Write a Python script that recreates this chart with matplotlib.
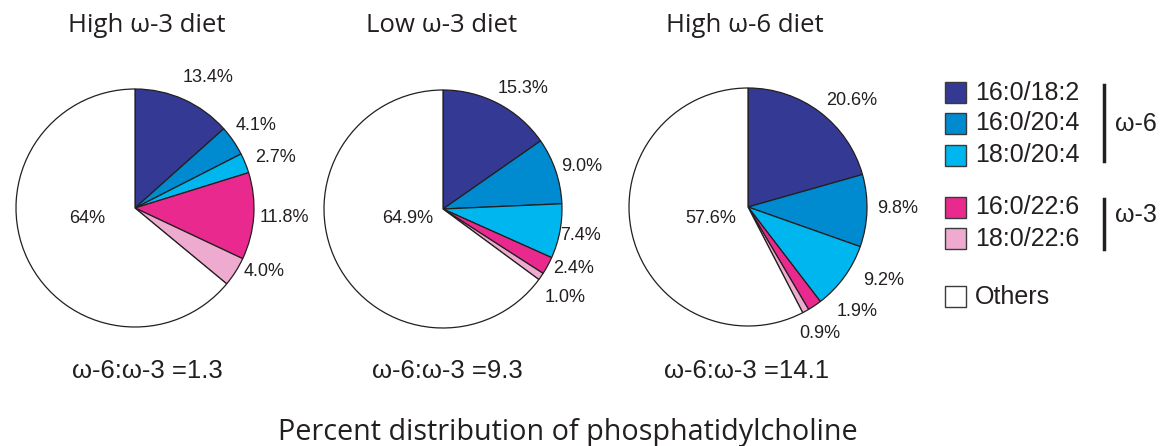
import numpy as np
import matplotlib.pyplot as plt
from matplotlib.patches import Rectangle

# data (percent of phosphatidylcholine)
species = ["16:0/18:2", "16:0/20:4", "18:0/20:4", "16:0/22:6", "18:0/22:6", "Others"]
diets = ["High ω-3 diet", "Low ω-3 diet", "High ω-6 diet"]
high_w3 = [13.4, 4.1, 2.7, 11.8, 4.0, 64]
low_w3 = [15.3, 9.0, 7.4, 2.4, 1.0, 64.9]
high_w6 = [20.6, 9.8, 9.2, 1.9, 0.9, 57.6]
all_values = [high_w3, low_w3, high_w6]
omega6_idx = [0, 1, 2]
omega3_idx = [3, 4]

colors = ["#343a93", "#008acf", "#00b6ee", "#e9298d", "#efaacf", "#ffffff"]

W, H = 1176, 446
fig = plt.figure(figsize=(W / 100, H / 100), dpi=100)
ax = fig.add_axes([0, 0, 1, 1])
ax.set_xlim(0, W)
ax.set_ylim(0, H)
ax.set_aspect("equal")
ax.axis("off")

def Y(y):
    # image-style y (top down) -> axes y
    return H - y

pie_cx = [135, 443, 748]
pie_cy = [208, 209, 207]
radius = 119
title_x = [147, 442, 745]
ratio_x = [147, 447, 747]

# label nudges (px, image coords) to mimic the hand placed labels
nudges = [
    [(15, 0), (3, -2), (8, 3), (7, 0), (9, -13), (-7, -9)],
    [(14, 6), (3, 3), (-3, 0), (5, -9), (5, 7), (5, -11)],
    [(18, 7), (7, -3), (20, -10), (29, -14), (3, 2), (7, 1)],
]

label_font = dict(family="Liberation Sans", fontsize=13, color="#231f20")

for i, vals in enumerate(all_values):
    cx, cy = pie_cx[i], Y(pie_cy[i])
    wedges, _ = ax.pie(vals, colors=colors, startangle=90, counterclock=False,
                       center=(cx, cy), radius=radius,
                       wedgeprops=dict(edgecolor="#231f20", linewidth=0.9))
    for j, w in enumerate(wedges):
        mid = np.deg2rad((w.theta1 + w.theta2) / 2)
        d = 0.38 if j == len(vals) - 1 else 1.2
        dx, dy = nudges[i][j]
        tx = cx + d * radius * np.cos(mid) + dx
        ty = cy + d * radius * np.sin(mid) - dy
        ax.text(tx, ty, f"{vals[j]}%", ha="center", va="center", **label_font)

    ax.text(title_x[i], Y(32), diets[i], ha="center", va="baseline",
            family="Open Sans", fontsize=18.5, color="#231f20")
    ratio = sum(vals[k] for k in omega6_idx) / sum(vals[k] for k in omega3_idx)
    ax.text(ratio_x[i], Y(378), f"ω-6:ω-3 ={ratio:.1f}", ha="center", va="baseline",
            family="Liberation Sans", fontsize=18.5, color="#231f20")

ax.set_xlim(0, W)
ax.set_ylim(0, H)

# legend
box_top = [82, 113, 145, 197, 228, 286]
box = 21
for j, name in enumerate(species):
    ax.add_patch(Rectangle((945, Y(box_top[j] + box)), box, box, facecolor=colors[j],
                           edgecolor="#3a3a3a", linewidth=1.0))
    ax.text(975, Y(box_top[j] + box / 2), name, ha="left", va="center",
            family="Liberation Sans", fontsize=18, color="#231f20")

ax.plot([1104, 1104], [Y(85), Y(161)], color="#231f20", linewidth=2.5)
ax.plot([1104, 1104], [Y(199), Y(249)], color="#231f20", linewidth=2.5)
ax.text(1115, Y(124), "ω-6", ha="left", va="center", family="Liberation Sans",
        fontsize=18, color="#231f20")
ax.text(1115, Y(215), "ω-3", ha="left", va="center", family="Liberation Sans",
        fontsize=18, color="#231f20")

ax.text(568, Y(440), "Percent distribution of phosphatidylcholine", ha="center",
        va="baseline", family="Open Sans", fontsize=20.7, color="#231f20")

fig.savefig("out.png", dpi=100)
